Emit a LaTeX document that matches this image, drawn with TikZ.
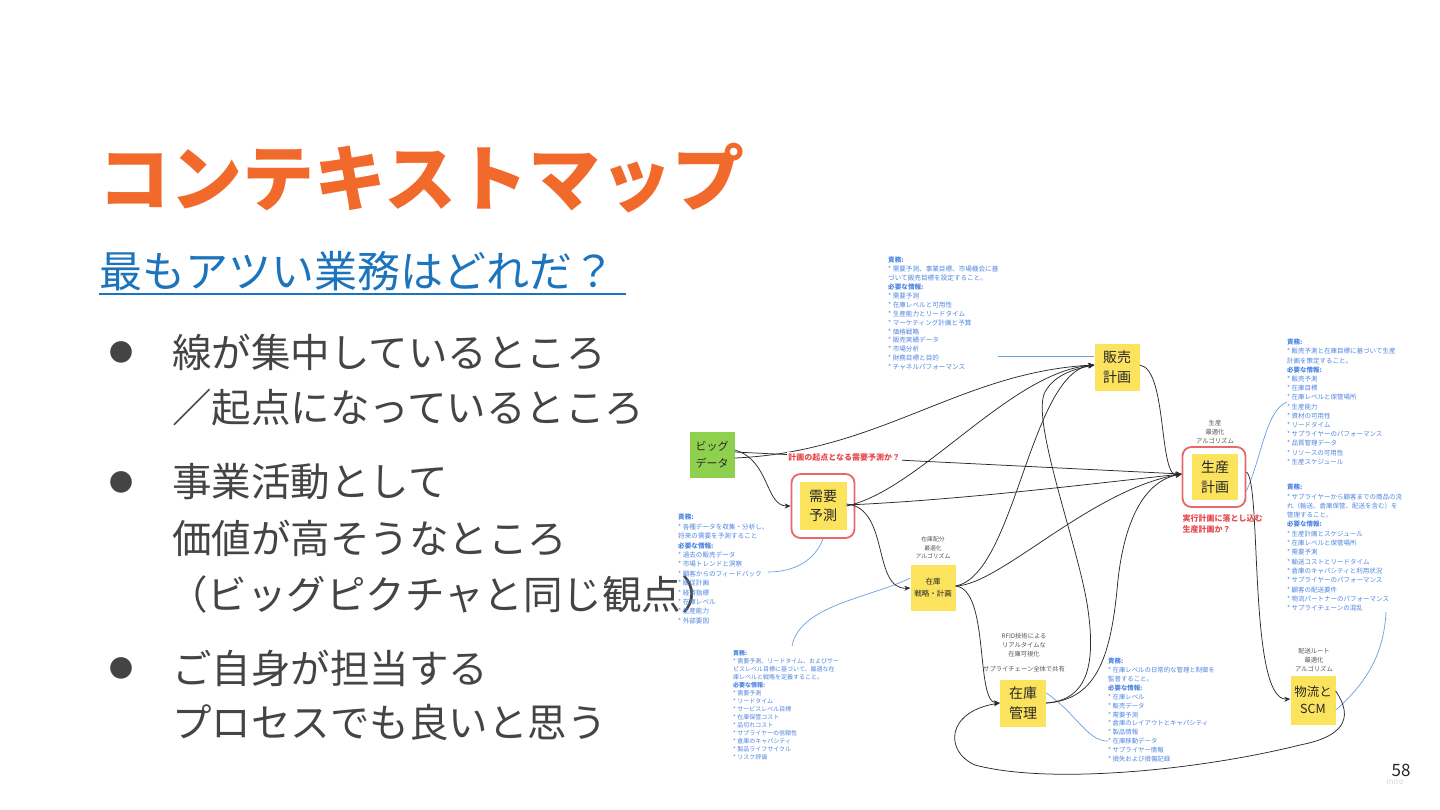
\documentclass[tikz,border=0pt]{standalone}
\usepackage{fontspec}
\setmainfont{Noto Sans CJK JP}
\usetikzlibrary{arrows.meta}
\definecolor{titleor}{HTML}{F26A2B}
\definecolor{subblue}{HTML}{1C75BC}
\definecolor{bodygray}{HTML}{444444}
\definecolor{sticky}{HTML}{FCE35E}
\definecolor{stickygreen}{HTML}{8FD14F}
\definecolor{framered}{HTML}{E8676B}
\definecolor{labred}{HTML}{E5484D}
\definecolor{infoblue}{HTML}{4F86E0}
\definecolor{linkblue}{HTML}{6A9FE0}
\definecolor{connk}{HTML}{2B2B2B}
\definecolor{algogray}{HTML}{555555}
\newcommand\bi{\leavevmode\hbox{*}\ }
\begin{document}
\begin{tikzpicture}[x=1pt,y=-1pt,
  bodytext/.style={anchor=west, inner sep=0, text=bodygray, font=\fontsize{39.5}{46}\selectfont},
  bulletdot/.style={inner sep=0, text=bodygray, font=\fontsize{24}{24}\selectfont},
  note/.style={fill=sticky, inner sep=0, align=center, text=black!85, font=\fontsize{14}{19.5}\selectfont},
  frame/.style={draw=framered, line width=1.8pt, rounded corners=9pt, inner sep=0},
  info/.style 2 args={anchor=north west, inner sep=0, align=left, text=infoblue, font=\fontsize{#1}{#2}\selectfont},
  algo/.style={align=center, inner sep=0, text=algogray, font=\fontsize{6.3}{8.8}\selectfont},
  conn/.style={draw=connk, line width=0.75pt, -{Stealth[length=6pt,width=5pt]}},
  link/.style={draw=linkblue, line width=0.7pt},
  redlab/.style={text=labred, font=\bfseries\fontsize{8}{10.5}\selectfont, inner sep=1.5pt, fill=white, align=left}
]
\useasboundingbox (0,0) rectangle (1440,810);
\fill[white] (0,0) rectangle (1440,810);

% ---------- left text ----------
\node[anchor=west, inner sep=0, text=titleor, font=\bfseries\fontsize{72}{80}\selectfont] (title) at (98,178) {コンテキストマップ};
\node[anchor=west, inner sep=0, text=subblue, font=\fontsize{43}{50}\selectfont] (sub) at (99,271) {最もアツい業務はどれだ？};
\draw[subblue, line width=2.2pt] (99,294) -- (626,294);

\node[bulletdot] (b1) at (121,352) {●};
\node[bulletdot] (b2) at (121,482) {●};
\node[bulletdot] (b3) at (121,668) {●};
\node[bodytext] (l1) at (172,352) {線が集中しているところ};
\node[bodytext] (l2) at (172,408) {／起点になっているところ};
\node[bodytext] (l3) at (172,482) {事業活動として};
\node[bodytext] (l4) at (172,538) {価値が高そうなところ};
\node[bodytext] (l5) at (168,594) {（ビッグピクチャと同じ観点）};
\node[bodytext] (l6) at (172,668) {ご自身が担当する};
\node[bodytext] (l7) at (172,722) {プロセスでも良いと思う};

\node[anchor=center, inner sep=0, text=black!85, font=\fontsize{17}{20}\selectfont] (pg) at (1401,770) {58};
\node[anchor=center, inner sep=0, text=black!15, font=\fontsize{8}{9}\selectfont] (miro) at (1395,781) {miro};

% ---------- info blocks ----------
\node[info={6.6}{8.9}] (t1) at (888,257) {\textbf{責務:}\\\bi 需要予測、事業目標、市場機会に基\\づいて販売目標を設定すること。\\\textbf{必要な情報:}\\\bi 需要予測\\\bi 在庫レベルと可用性\\\bi 生産能力とリードタイム\\\bi マーケティング計画と予算\\\bi 価格戦略\\\bi 販売実績データ\\\bi 市場分析\\\bi 財務目標と目的\\\bi チャネルパフォーマンス};

\node[info={6.5}{9.2}] (t2) at (1287,339) {\textbf{責務:}\\\bi 販売予測と在庫目標に基づいて生産\\計画を策定すること。\\\textbf{必要な情報:}\\\bi 販売予測\\\bi 在庫目標\\\bi 在庫レベルと保管場所\\\bi 生産能力\\\bi 資材の可用性\\\bi リードタイム\\\bi サプライヤーのパフォーマンス\\\bi 品質管理データ\\\bi リソースの可用性\\\bi 生産スケジュール};

\node[info={6.5}{9.3}] (t3) at (1287,484) {\textbf{責務:}\\\bi サプライヤーから顧客までの商品の流\\れ（輸送、倉庫保管、配送を含む）を\\管理すること。\\\textbf{必要な情報:}\\\bi 生産計画とスケジュール\\\bi 在庫レベルと保管場所\\\bi 需要予測\\\bi 輸送コストとリードタイム\\\bi 倉庫のキャパシティと利用状況\\\bi サプライヤーのパフォーマンス\\\bi 顧客の配送要件\\\bi 物流パートナーのパフォーマンス\\\bi サプライチェーンの混乱};

\node[info={6.6}{9.4}] (t4) at (678,514) {\textbf{責務:}\\\bi 各種データを収集・分析し、\\将来の需要を予測すること\\\textbf{必要な情報:}\\\bi 過去の販売データ\\\bi 市場トレンドと洞察\\\bi 顧客からのフィードバック\\\bi 販促計画\\\bi 経済指標\\\bi 在庫レベル\\\bi 生産能力\\\bi 外部要因};

\node[info={6.0}{8.0}] (t5) at (733,650) {\textbf{責務:}\\\bi 需要予測、リードタイム、およびサー\\ビスレベル目標に基づいて、最適な在\\庫レベルと戦略を定義すること。\\\textbf{必要な情報:}\\\bi 需要予測\\\bi リードタイム\\\bi サービスレベル目標\\\bi 在庫保管コスト\\\bi 品切れコスト\\\bi サプライヤーの信頼性\\\bi 倉庫のキャパシティ\\\bi 製品ライフサイクル\\\bi リスク評価};

\node[info={6.4}{8.9}] (t6) at (1108,658) {\textbf{責務:}\\\bi 在庫レベルの日常的な管理と制御を\\監督すること。\\\textbf{必要な情報:}\\\bi 在庫レベル\\\bi 販売データ\\\bi 需要予測\\\bi 倉庫のレイアウトとキャパシティ\\\bi 製品情報\\\bi 在庫移動データ\\\bi サプライヤー情報\\\bi 損失および損傷記録};

% ---------- sticky notes ----------
\node[note, fill=stickygreen, minimum width=45pt, minimum height=46pt, font=\fontsize{11}{17}\selectfont] (bd) at (712,455) {ビッグ\\データ};
\node[frame, minimum width=63pt, minimum height=64pt] (jyf) at (823,506) {};
\node[note, minimum width=47pt, minimum height=48pt] (jy) at (823,506) {需要\\予測};
\node[note, minimum width=45pt, minimum height=47pt] (hk) at (1117,367) {販売\\計画};
\node[frame, minimum width=63pt, minimum height=60pt] (skf) at (1214,477) {};
\node[note, minimum width=46pt, minimum height=46pt] (sk) at (1215,477) {生産\\計画};
\node[note, minimum width=45pt, minimum height=46pt, font=\fontsize{7.5}{12}\selectfont] (zs) at (933,588) {在庫\\戦略・計画};
\node[note, minimum width=46pt, minimum height=47pt] (zk) at (1023,703) {在庫\\管理};
\node[note, minimum width=45pt, minimum height=49pt, font=\fontsize{12.5}{17}\selectfont] (bs) at (1313,700) {物流と\\SCM};

% ---------- algorithm labels ----------
\node[algo] (a1) at (1215,432) {生産\\最適化\\アルゴリズム};
\node[algo, font=\fontsize{5.8}{8.5}\selectfont] (a2) at (933,548) {在庫配分\\最適化\\アルゴリズム};
\node[algo] (a3) at (1024,645) {RFID技術による\\リアルタイムな\\在庫可視化};
\node[algo] (a4) at (1024,669) {サプライチェーン全体で共有};
\node[algo] (a5) at (1314,660) {配送ルート\\最適化\\アルゴリズム};

% ---------- blue links ----------
\draw[link] (hk.west |- 0,356) -- (998,356);
\draw[link] ([yshift=-14pt]skf.east) .. controls (1262,456) and (1266,410) .. (1287,402);
\draw[link] ([yshift=-10pt]bs.east) .. controls (1370,680) and (1384,650) .. (1386,612);
\draw[link] (jyf.south) .. controls (815,560) and (795,572) .. (768,572);
\draw[link] ([yshift=10pt]zs.west) .. controls (870,598) and (800,605) .. (792,646);
\draw[link] ([yshift=10pt]zk.east) .. controls (1075,712) and (1088,742) .. (1108,741);

% ---------- connectors ----------
% ビッグデータ
\draw[conn] ([yshift=-3pt]bd.east) .. controls (880,452) and (960,372) .. ([yshift=2pt]hk.west);
\draw[conn] ([yshift=3pt]bd.east) -- node[redlab, pos=0.245] (q1) {計画の起点となる需要予測か？} ([yshift=3pt]skf.west);
\draw[conn] ([yshift=5pt]bd.east) .. controls (770,460) and (765,506) .. (jyf.west);
% 需要予測
\draw[conn] (jy.east) .. controls (920,490) and (1010,372) .. ([yshift=2pt]hk.west);
\draw[conn] ([yshift=1pt]jy.east) .. controls (960,500) and (1090,484) .. ([yshift=3pt]skf.west);
\draw[conn] ([yshift=2pt]jy.east) .. controls (890,508) and (872,590) .. (zs.west);
% 在庫戦略・計画
\draw[conn] ([yshift=2pt]zs.east) .. controls (1015,575) and (1030,372) .. ([yshift=2pt]hk.west);
\draw[conn] ([yshift=2pt]zs.east) .. controls (1000,585) and (1090,490) .. ([yshift=3pt]skf.west);
\draw[conn] ([yshift=2pt]zs.east) .. controls (990,590) and (975,702) .. (zk.west);
% 在庫管理
\draw[conn] (zk.east) .. controls (1090,700) and (1095,660) .. (1088,610) .. controls (1080,550) and (1030,420) .. (1045,392) .. controls (1055,374) and (1075,369) .. ([yshift=2pt]hk.west);
\draw[conn] (zk.east) .. controls (1095,700) and (1110,660) .. (1117,590) .. controls (1122,530) and (1140,482) .. ([yshift=3pt]skf.west);
% 販売計画 -> 生産計画
\draw[conn] ([yshift=2pt]hk.east) .. controls (1168,369) and (1158,480) .. ([yshift=3pt]skf.west);
% 生産計画 -> 物流とSCM
\draw[conn] ([yshift=5pt]skf.east) .. controls (1262,482) and (1248,701) .. ([yshift=1pt]bs.west);
% 物流とSCM -> 在庫管理 (loop)
\draw[conn] ([yshift=9pt]bs.east) .. controls (1350,712) and (1352,735) .. (1300,745) .. controls (1200,770) and (1050,785) .. (975,765) .. controls (945,752) and (945,712) .. (zk.west);

\node[redlab, anchor=north west, fill=none] (q2) at (1181,513) {実行計画に落とし込む\\生産計画か？};
\end{tikzpicture}
\end{document}
